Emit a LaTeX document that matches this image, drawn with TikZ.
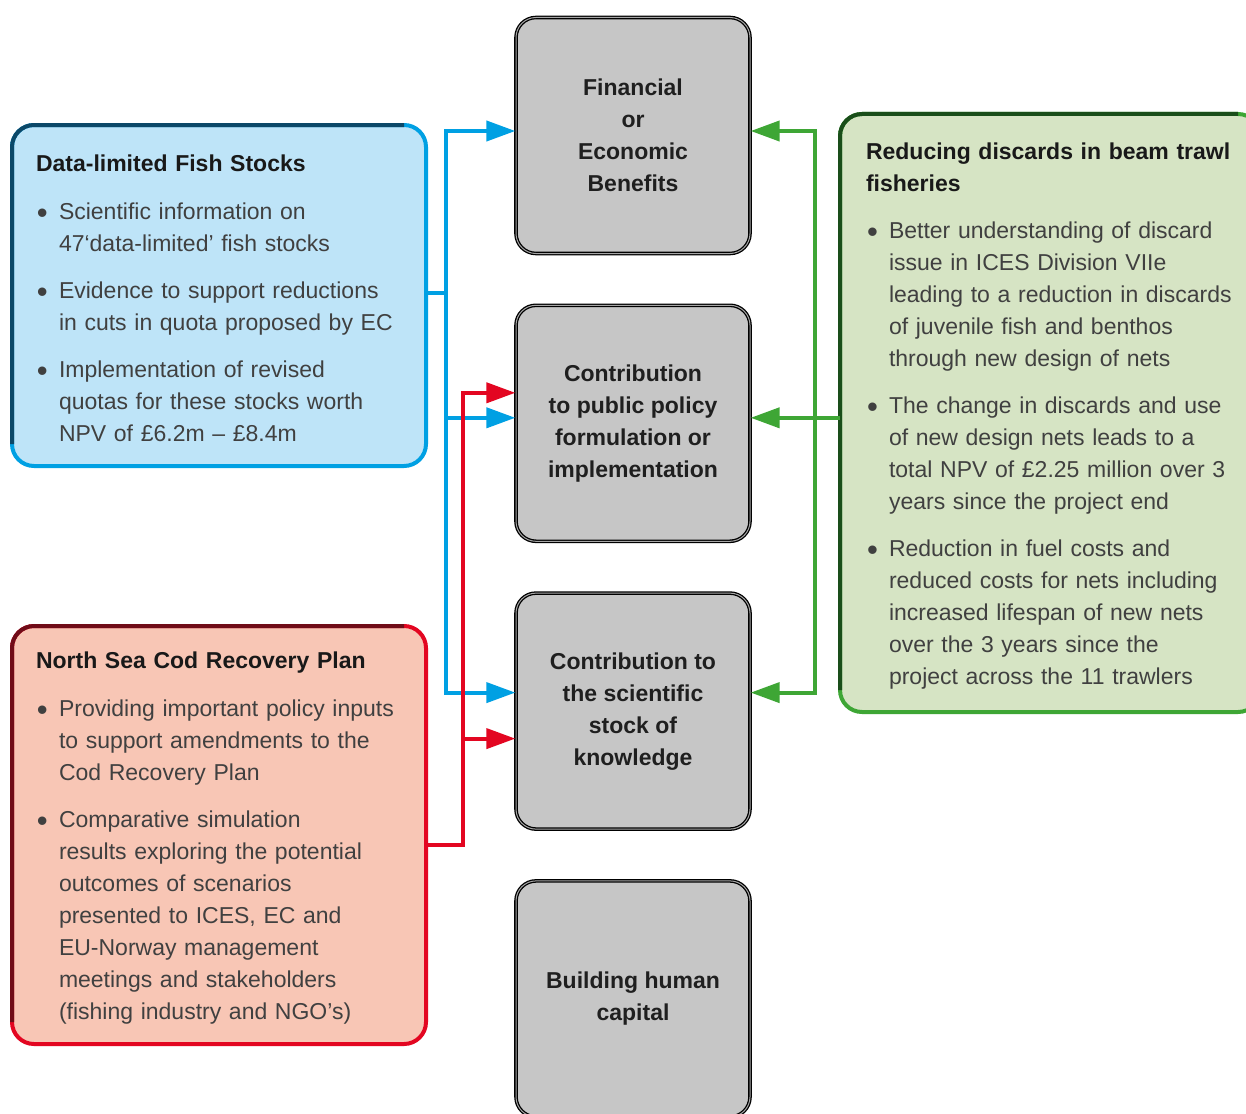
\documentclass[tikz,border=0pt]{standalone}
\usepackage{fontspec}
\setmainfont{Liberation Sans}
\usetikzlibrary{arrows.meta, positioning}

\definecolor{stockblue}{RGB}{0,160,227}
\definecolor{stockbluedark}{RGB}{12,72,104}
\definecolor{stockbluefill}{RGB}{190,228,248}
\definecolor{codred}{RGB}{227,6,33}
\definecolor{codreddark}{RGB}{112,12,24}
\definecolor{codredfill}{RGB}{248,198,181}
\definecolor{trawlgreen}{RGB}{62,166,53}
\definecolor{trawlgreendark}{RGB}{26,78,26}
\definecolor{trawlgreenfill}{RGB}{214,228,196}
\definecolor{impactgrey}{RGB}{198,198,198}

\newcommand{\bul}{\makebox[23pt][l]{\hspace{1pt}\raisebox{-4pt}{\scalebox{1.35}{\textbullet}}}}
\newcommand{\cont}{\hspace*{23pt}}
\newcommand{\headgap}{\rule{0pt}{23pt}}

\begin{document}
\begin{tikzpicture}[
    x=1pt, y=-1pt,
    node distance=50.5pt,
    font=\fontsize{23}{32}\selectfont,
    impact/.style={
        draw=black,
        line width=1.3pt,
        double=gray!70,
        double distance=1pt,
        rounded corners=20pt,
        fill=impactgrey,
        minimum width=234pt,
        minimum height=236pt,
        align=center,
        text=black!88,
        font=\fontsize{23}{32}\selectfont\bfseries
    },
    project/.style={
        line width=4pt,
        rounded corners=22pt,
        outer sep=0pt,
        inner xsep=24pt,
        align=left,
        text=black!75
    },
    link/.style={line width=4pt},
    arrow/.style={link, -{Triangle[length=29pt, width=20pt]}}
]
\clip (0,0) rectangle (1246,1113);
\fill[white] (0,0) rectangle (1246,1113);

% impact boxes
\node[impact] (fin) at (633,135.5) {Financial\\or\\Economic\\Benefits};
\node[impact, below=of fin] (policy) {Contribution\\to public policy\\formulation or\\implementation};
\node[impact, below=of policy] (science) {Contribution to\\the scientific\\stock of\\knowledge};
\node[impact, below=of science] (human) {Building human\\capital};

% project boxes
\node[project, draw=stockblue, fill=stockbluefill, minimum width=414pt, minimum height=341pt, text width=366pt] (stocks) at (219,295.5) {%
{\headgap\bfseries\color{black!90}Data-limited Fish Stocks}\\[16pt]
\bul Scientific information on\\
\cont 47‘data-limited’ fish stocks\\[15pt]
\bul Evidence to support reductions\\
\cont in cuts in quota proposed by EC\\[15pt]
\bul Implementation of revised\\
\cont quotas for these stocks worth\\
\cont NPV of £6.2m – £8.4m};

\node[project, draw=codred, fill=codredfill, minimum width=414pt, minimum height=418pt, text width=366pt] (cod) at (219,835) {%
{\headgap\bfseries\color{black!90}North Sea Cod Recovery Plan}\\[16pt]
\bul Providing important policy inputs\\
\cont to support amendments to the\\
\cont Cod Recovery Plan\\[15pt]
\bul Comparative simulation\\
\cont results exploring the potential\\
\cont outcomes of scenarios\\
\cont presented to ICES, EC and\\
\cont EU-Norway management\\
\cont meetings and stakeholders\\
\cont (fishing industry and NGO’s)};

\node[project, draw=trawlgreen, fill=trawlgreenfill, minimum width=420pt, minimum height=598pt, text width=368pt, inner xsep=26pt] (discards) at (1050,413) {%
{\headgap\bfseries\color{black!90}Reducing discards in beam trawl\\fisheries}\\[15pt]
\bul Better understanding of discard\\
\cont issue in ICES Division VIIe\\
\cont leading to a reduction in discards\\
\cont of juvenile fish and benthos\\
\cont through new design of nets\\[15pt]
\bul The change in discards and use\\
\cont of new design nets leads to a\\
\cont total NPV of £2.25 million over 3\\
\cont years since the project end\\[15pt]
\bul Reduction in fuel costs and\\
\cont reduced costs for nets including\\
\cont increased lifespan of new nets\\
\cont over the 3 years since the\\
\cont project across the 11 trawlers};

% darker upper edges
\draw[link, stockbluedark, rounded corners=22pt] ([yshift=22pt]stocks.south west) -- (stocks.north west) -- ([xshift=-22pt]stocks.north east);
\draw[link, codreddark, rounded corners=22pt] ([yshift=22pt]cod.south west) -- (cod.north west) -- ([xshift=-22pt]cod.north east);
\draw[link, trawlgreendark, rounded corners=22pt] ([yshift=22pt]discards.south west) -- (discards.north west) -- ([xshift=-22pt]discards.north east);

% connectors
\coordinate (bluejoin) at (446,293);
\coordinate (redjoin) at (463,845);
\coordinate (greenjoin) at (815,418);

\draw[link, stockblue] (stocks.east |- bluejoin) -- (bluejoin);
\draw[arrow, stockblue] (bluejoin) |- ([yshift=4.5pt]fin.west);
\draw[arrow, stockblue] (bluejoin) |- ([yshift=5.5pt]policy.west);
\draw[arrow, stockblue] (bluejoin) |- ([yshift=18.5pt]science.west);

\draw[arrow, codred] (cod.east |- redjoin) -- (redjoin) |- ([yshift=30.5pt]policy.west);
\draw[arrow, codred] (redjoin) |- ([yshift=-27.5pt]science.west);

\draw[link, trawlgreen] (discards.west |- greenjoin) -- (greenjoin);
\draw[arrow, trawlgreen] (greenjoin) |- ([yshift=4.5pt]fin.east);
\draw[arrow, trawlgreen] (greenjoin) |- ([yshift=5.5pt]policy.east);
\draw[arrow, trawlgreen] (greenjoin) |- ([yshift=18.5pt]science.east);
\end{tikzpicture}
\end{document}
